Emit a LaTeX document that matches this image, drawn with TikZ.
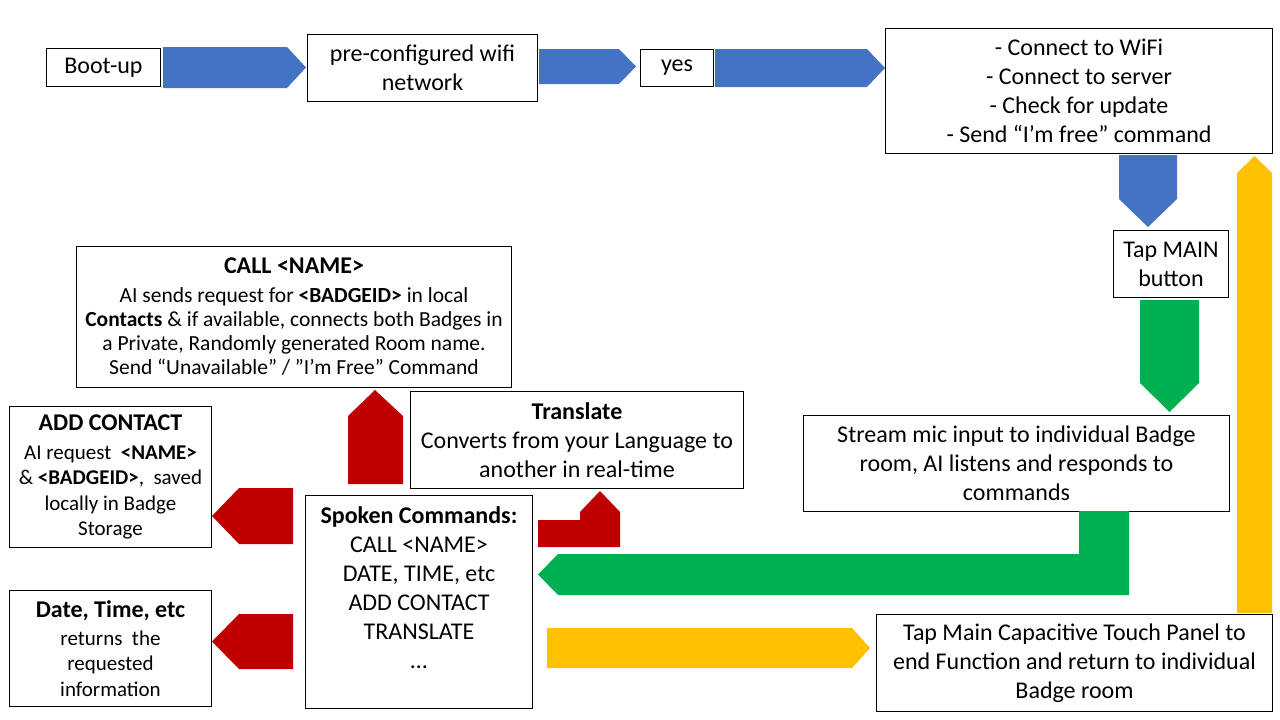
\documentclass[tikz,border=0pt]{standalone}
\usepackage{fontspec}
\setmainfont{Carlito}
\newcommand\fsz[2]{\fontsize{#1}{#2}\selectfont}
\definecolor{cblue}{HTML}{4472C4}
\definecolor{cgreen}{HTML}{00B050}
\definecolor{cyellow}{HTML}{FFC000}
\definecolor{cred}{HTML}{C00000}
\begin{document}
\begin{tikzpicture}[x=1pt,y=-1pt,
  box/.style={draw=black, line width=1pt, inner sep=0pt, align=center, anchor=north west, font=\fsz{24}{29}},
  bodytxt/.style={font=\fsz{21.5}{24}},
  bodytxtb/.style={font=\fsz{21}{25.5}}]
\useasboundingbox (0,0) rectangle (1280,720);
\fill[white] (0,0) rectangle (1280,720);

% ---------- boxes ----------
\node[box, minimum width=114pt, minimum height=38pt] (boot) at (46,48) {Boot-up};
\node[box, minimum width=230pt, minimum height=67pt] (wifi) at (307,34) {pre-configured wifi\\network};
\node[box, minimum width=73pt, minimum height=37pt] (yes) at (640,49) {yes};
\node[box, minimum width=387pt, minimum height=125pt] (setup) at (885,28)
  {- Connect to WiFi\\- Connect to server\\- Check for update\\- Send “I’m free” command};
\node[box, minimum width=115pt, minimum height=67pt] (tapmain) at (1113,230) {Tap MAIN\\button};
\node[box, minimum width=426pt, minimum height=96pt] (stream) at (803,415)
  {Stream mic input to individual Badge\\room, AI listens and responds to\\commands};
\node[box, minimum width=396pt, minimum height=97pt] (tapcap) at (876,614)
  {Tap Main Capacitive Touch Panel to\\end Function and return to individual\\Badge room};
\node[box, minimum width=227pt, minimum height=213pt] (spoken) at (305,495) {};
\node[anchor=north, inner sep=0pt, align=center, font=\fsz{24}{29}] (spokentext) at ([yshift=-11pt]spoken.north)
  {\textbf{Spoken Commands:}\\CALL <NAME>\\DATE, TIME, etc\\ADD CONTACT\\TRANSLATE\\…};
\node[box, minimum width=333pt, minimum height=97pt] (translate) at (410,391)
  {\textbf{Translate}\\Converts from your Language to\\another in real-time};
\node[box, bodytxt, minimum width=435pt, minimum height=141pt] (call) at (76,246)
  {{\fsz{24}{29}\bfseries CALL <NAME>}\\[5pt]
   AI sends request for \textbf{<BADGEID>} in local\\
   \textbf{Contacts} \& if available, connects both Badges in\\
   a Private, Randomly generated Room name.\\
   Send “Unavailable” / ”I’m Free” Command};
\node[box, bodytxtb, minimum width=202pt, minimum height=141pt] (add) at (9,406)
  {{\fsz{24}{29}\bfseries ADD CONTACT}\\[3pt]
   AI request \ \textbf{<NAME>}\\
   \& \textbf{<BADGEID>}, \ saved\\
   locally in Badge\\
   Storage};
\node[box, bodytxtb, minimum width=202pt, minimum height=116pt] (date) at (9,590)
  {{\fsz{24}{29}\bfseries Date, Time, etc}\\[2pt]
   returns \ the\\
   requested\\
   information};

% ---------- block arrows ----------
% blue, top row
\fill[cblue] (163,47) -- (287,47) -- (306,67.5) -- (287,88) -- (163,88) -- cycle;
\fill[cblue] (539,49) -- (619,49) -- (636,66.5) -- (619,84) -- (539,84) -- cycle;
\fill[cblue] (715,49) -- (867,49) -- (885,68) -- (867,87) -- (715,87) -- cycle;
% blue down to Tap MAIN
\fill[cblue] (1119,155) -- (1177,155) -- (1177,199) -- (1148,227) -- (1119,199) -- cycle;
% green down to stream
\fill[cgreen] (1140,300) -- (1199,300) -- (1199,383) -- (1169.5,412) -- (1140,383) -- cycle;
% yellow up to setup
\fill[cyellow] (1237,613) -- (1237,173) -- (1254.5,156) -- (1272,173) -- (1272,613) -- cycle;
% green bent: stream -> spoken
\fill[cgreen] (1079,511) -- (1129,511) -- (1129,595) -- (558,595) -- (538,574.5) -- (558,554) -- (1079,554) -- cycle;
% yellow: spoken -> tapcap
\fill[cyellow] (547,628) -- (852,628) -- (870,648) -- (852,668) -- (547,668) -- cycle;
% red up: spoken -> call
\fill[cred] (348,484) -- (348,416) -- (375,390) -- (403,416) -- (403,484) -- cycle;
% red bent: spoken -> translate
\fill[cred] (538,520) -- (580,520) -- (580,512) -- (600,491) -- (620,512) -- (620,547) -- (538,547) -- cycle;
% red left: spoken -> add contact
\fill[cred] (293,488) -- (239,488) -- (212,516) -- (239,544) -- (293,544) -- cycle;
% red left: spoken -> date
\fill[cred] (293,614) -- (239,614) -- (212,641.5) -- (239,669) -- (293,669) -- cycle;
\end{tikzpicture}
\end{document}
